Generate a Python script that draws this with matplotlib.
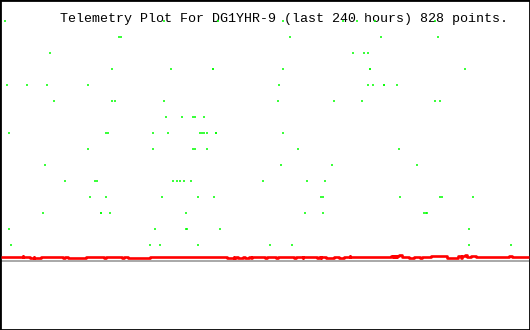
import matplotlib
matplotlib.use('Agg')
import matplotlib.pyplot as plt

title = "Telemetry Plot For DG1YHR-9 (last 240 hours) 828 points."

# green channel: hours, value (one line per value level)
green_hours = [1.8, 73.8, 98.8, 128.0, 155.7, 161.7, 169.9, 197.2,
               53.7, 54.2, 131.2, 172.6, 199.0,
               21.9, 160.3, 165.3, 167.1,
               50.5, 77.4, 96.1, 96.5, 128.4, 167.6, 168.0, 211.3,
               2.7, 11.4, 20.9, 39.6, 126.6, 166.7, 169.0, 174.0, 174.4, 180.3,
               24.1, 50.1, 51.5, 74.2, 126.1, 151.2, 164.4, 197.6, 199.5,
               75.1, 82.0, 87.4, 88.3, 92.0,
               3.2, 47.8, 48.3, 69.2, 75.6, 90.6, 91.5, 92.4, 93.8, 97.5, 97.9, 128.0,
               39.2, 68.8, 87.4, 88.3, 93.4, 134.8, 181.2,
               19.6, 127.1, 150.7, 189.0,
               28.7, 42.8, 43.3, 78.3, 79.7, 81.1, 83.3, 86.5, 118.9, 138.9, 147.5,
               40.1, 47.4, 73.3, 89.7, 97.0, 145.7, 146.2, 181.7, 199.9, 200.8, 214.9,
               19.1, 45.1, 45.5, 49.2, 83.8, 138.4, 146.6, 192.6, 193.1, 194.0,
               3.6, 69.7, 83.8, 84.7, 99.3, 212.7,
               4.1, 67.4, 72.4, 89.3, 122.1, 132.5, 213.1, 231.8]
green_vals = [15] * 8 + [14] * 5 + [13] * 4 + [12] * 8 + [11] * 10 + [10] * 9 + \
             [9] * 5 + [8] * 12 + [7] * 7 + [6] * 4 + [5] * 11 + [4] * 11 + \
             [3] * 10 + [2] * 6 + [1] * 8

# red channel as steps: start hour, value
red_hours = [0.0, 9.6, 10.0, 13.2, 14.6, 15.0, 18.2, 27.8, 28.7, 30.5, 38.7,
             46.9, 47.4, 55.1, 56.0, 57.8, 67.4, 102.5, 105.7, 106.1, 107.0,
             107.5, 110.2, 110.7, 112.9, 113.4, 114.3, 119.8, 121.1, 125.2,
             125.7, 133.4, 133.9, 137.1, 137.5, 143.9, 144.8, 145.3, 145.7,
             148.0, 151.2, 153.9, 156.2, 158.5, 158.9, 177.6, 178.1, 178.5,
             179.0, 179.4, 179.9, 180.3, 181.2, 182.2, 185.4, 187.7, 190.8,
             191.7, 195.4, 202.7, 207.7, 209.1, 209.5, 211.3, 211.8, 214.0,
             215.9, 230.9, 232.7, 240.0]
red_vals = [0.25, 0.3125, 0.25, 0.1875, 0.25, 0.1875, 0.25, 0.1875, 0.25, 0.1875, 0.25,
            0.1875, 0.25, 0.1875, 0.25, 0.1875, 0.25, 0.1875, 0.25, 0.1875, 0.25,
            0.1875, 0.25, 0.1875, 0.25, 0.1875, 0.25, 0.1875, 0.25, 0.1875,
            0.25, 0.1875, 0.25, 0.1875, 0.25, 0.1875, 0.25, 0.1875, 0.25,
            0.1875, 0.25, 0.1875, 0.25, 0.3125, 0.25, 0.3125, 0.25, 0.3125,
            0.25, 0.3125, 0.25, 0.3125, 0.375, 0.25, 0.1875, 0.25, 0.1875,
            0.25, 0.3125, 0.1875, 0.3125, 0.1875, 0.3125, 0.375, 0.25, 0.3125,
            0.25, 0.3125, 0.25, 0.25]

gray_hours = [0.0, 240.0]
gray_vals = [0.0, 0.0]

fig = plt.figure(figsize=(5.3, 3.3), dpi=100)
ax = fig.add_axes([0, 0, 1, 1])
ax.set_xlim(-0.683, 240.68)
ax.set_ylim(-4.3125, 16.3125)
ax.set_xticks([])
ax.set_yticks([])
for s in ax.spines.values():
    s.set_linewidth(2.0)
    s.set_color('black')

ax.plot(gray_hours, gray_vals, color='#aaaaaa', lw=1.44, solid_capstyle='butt', zorder=2)
ax.step(red_hours, red_vals, where='post', color='#ff0000', lw=1.9,
        solid_capstyle='butt', zorder=3)
ax.plot(green_hours, green_vals, ls='none', marker='|', ms=2.0, mew=1.1,
        color='#00ff00', antialiased=False, zorder=5)

ax.text(60 / 530, 1 - 22 / 330, title, transform=ax.transAxes, ha='left', va='baseline',
        family='Liberation Mono', fontsize=9.6, color='black', zorder=4)

fig.savefig('out.png', dpi=100, facecolor='white')
